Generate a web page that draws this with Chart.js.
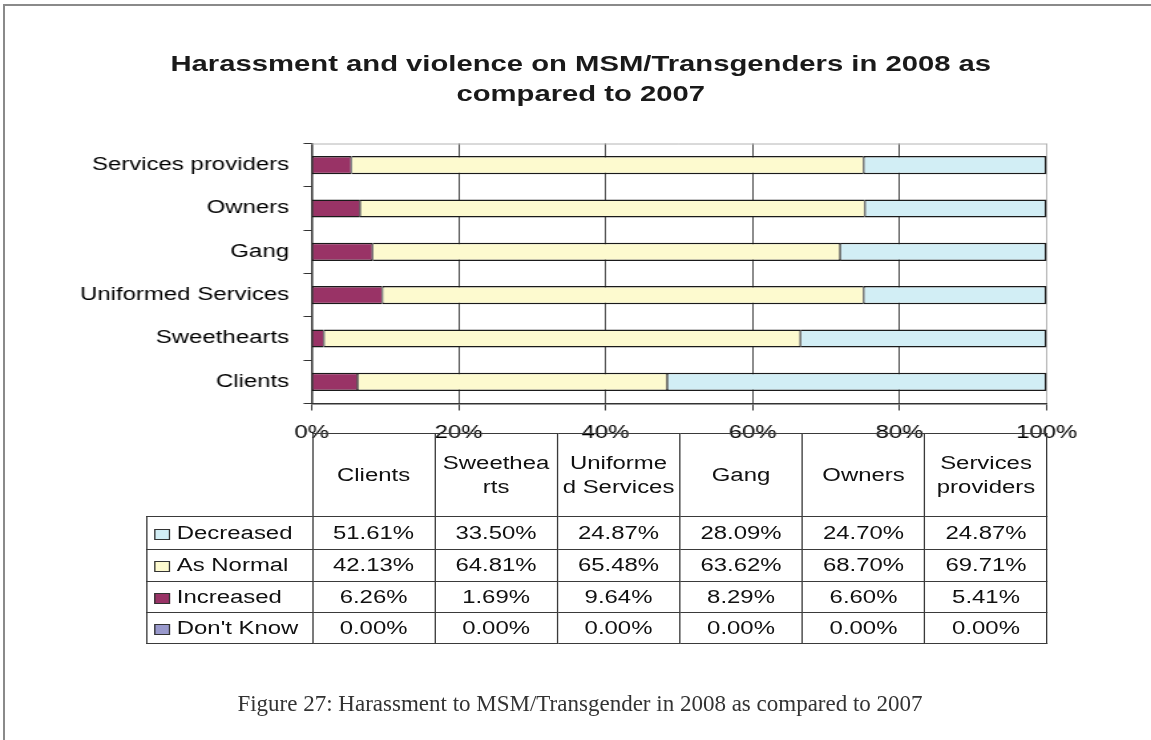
<!DOCTYPE html>
<html>
<head>
<meta charset="utf-8">
<title>Harassment and violence on MSM/Transgenders</title>
<script src="https://cdn.jsdelivr.net/npm/chart.js@4.4.0/dist/chart.umd.min.js"></script>
<style>
  html, body { margin: 0; padding: 0; background: #fff; }
  body { width: 1151px; height: 740px; overflow: hidden; position: relative;
         font-family: 'Liberation Sans', Arial, sans-serif; }
  #frame { position: absolute; left: 3px; top: 4px; width: 1200px; height: 800px;
           border-top: 2px solid #8a8a8a; border-left: 2px solid #8a8a8a; }
  /* the whole chart image is horizontally stretched in the original */
  #stretch { position: absolute; left: 0; top: 0; width: 866px; height: 740px;
             transform-origin: 0 0; transform: scaleX(1.3291); }
  #chart { position: absolute; left: 0; top: 0; }
  #chartTitle { position: absolute; left: 4px; top: 49px; width: 866px; text-align: center;
                font-weight: bold; font-size: 22px; line-height: 30px; color: #1a1a1a; }
  #dataTable { position: absolute; top: 433px; left: 110px; border-collapse: collapse;
               table-layout: fixed; width: 677.5px; font-size: 18px; color: #111; }
  #dataTable td { border: 1px solid #3a3a3a; padding: 0; text-align: center; white-space: nowrap; }
  #dataTable td.blank { border: none; }
  #dataTable tr.head td { line-height: 24px; }
  #dataTable td.rowLabel { text-align: left; padding-left: 5px; }
  .key { display: inline-block; width: 10px; height: 9px; border: 1px solid #333;
         margin-right: 5px; vertical-align: -1px; }
  #caption { position: absolute; left: 0; top: 691px; width: 1160px; text-align: center;
             font-family: 'Liberation Serif', 'Times New Roman', serif; font-size: 23px;
             line-height: 26px; color: #333; }
</style>
</head>
<body>
<div id="frame"></div>
<div id="stretch">
  <div id="chartTitle">Harassment and violence on MSM/Transgenders in 2008 as<br>compared to 2007</div>
  <canvas id="chart" width="866" height="740"></canvas>
  <table id="dataTable"></table>
</div>
<div id="caption">Figure 27: Harassment to MSM/Transgender in 2008 as compared to 2007</div>

<script>
const categories = ["Clients", "Sweethearts", "Uniformed Services", "Gang", "Owners", "Services providers"];
const tableHeaders = [["Clients"], ["Sweethea", "rts"], ["Uniforme", "d Services"], ["Gang"], ["Owners"], ["Services", "providers"]];
const decreased = [51.61, 33.50, 24.87, 28.09, 24.70, 24.87];
const asNormal = [42.13, 64.81, 65.48, 63.62, 68.70, 69.71];
const increased = [6.26, 1.69, 9.64, 8.29, 6.60, 5.41];
const dontKnow = [0.00, 0.00, 0.00, 0.00, 0.00, 0.00];
const xTickValues = [0, 20, 40, 60, 80, 100];

const colors = {
  decreased: "#D2EEF5",
  asNormal: "#FDFACF",
  increased: "#993366",
  dontKnow: "#9999CC",
};

const FONT = "'Liberation Sans', Arial, sans-serif";

// light grey top border of the plot area
const plotFrame = {
  id: "plotFrame",
  afterDraw(chart) {
    const { ctx, chartArea } = chart;
    ctx.save();
    ctx.strokeStyle = "#b4b4b4";
    ctx.lineWidth = 1;
    ctx.beginPath();
    ctx.moveTo(chartArea.left, chartArea.top + 0.5);
    ctx.lineTo(chartArea.right, chartArea.top + 0.5);
    ctx.stroke();
    ctx.restore();
  },
};

const thinSides = { top: 1.5, bottom: 1.5, left: 0.75, right: 0.75 };

new Chart(document.getElementById("chart"), {
  type: "bar",
  data: {
    labels: categories,
    datasets: [
      { label: "Increased", data: increased, backgroundColor: colors.increased, borderWidth: thinSides },
      { label: "As Normal", data: asNormal, backgroundColor: colors.asNormal, borderWidth: thinSides },
      { label: "Decreased", data: decreased, backgroundColor: colors.decreased,
        borderWidth: { top: 1.5, bottom: 1.5, left: 0.75, right: 1.5 } },
      { label: "Don't Know", data: dontKnow, backgroundColor: colors.dontKnow, borderWidth: thinSides },
    ],
  },
  options: {
    indexAxis: "y",
    responsive: false,
    animation: false,
    devicePixelRatio: 1,
    layout: { padding: { left: 0, right: 78.6, top: 143.5, bottom: 276.5 } },
    datasets: {
      bar: {
        borderColor: "#1a1a1a",
        borderSkipped: false,
        barPercentage: 0.42,
        categoryPercentage: 1,
      },
    },
    plugins: {
      legend: { display: false },
      tooltip: { enabled: false },
      title: { display: false },
    },
    scales: {
      x: {
        stacked: true,
        min: 0,
        max: 100,
        afterBuildTicks: (scale) => {
          scale.ticks = xTickValues.map((v) => ({ value: v }));
        },
        ticks: {
          callback: (v) => v + "%",
          padding: 12,
          color: "#000",
          maxRotation: 0,
          font: { family: FONT, size: 18 },
        },
        grid: {
          color: (ctx) => {
            const v = ctx.tick ? ctx.tick.value : -1;
            if (v === 0) return "rgba(0,0,0,0)";
            if (v === 100) return "#b0b0b0";
            return "#4a4a4a";
          },
          tickColor: "#333",
          tickLength: 7,
          lineWidth: 1,
        },
        border: { color: "#333", width: 1.5 },
        afterFit: (scale) => {
          scale.height = 60;
        },
      },
      y: {
        stacked: true,
        reverse: true,
        ticks: {
          padding: 11,
          color: "#000",
          font: { family: FONT, size: 18 },
        },
        grid: {
          drawOnChartArea: false,
          offset: true,
          color: "#333",
          tickColor: "#333",
          tickLength: 6,
        },
        border: { color: "#333", width: 1.5 },
        afterFit: (scale) => {
          scale.width = 234.4;
        },
      },
    },
  },
  plugins: [plotFrame],
});

// Data table under the chart (acts as the legend too)
const tableRows = [
  { label: "Decreased", color: colors.decreased, values: decreased },
  { label: "As Normal", color: colors.asNormal, values: asNormal },
  { label: "Increased", color: colors.increased, values: increased },
  { label: "Don't Know", color: colors.dontKnow, values: dontKnow },
];
const rowHeights = [33, 32, 31, 31];

const table = document.getElementById("dataTable");
let html = '<colgroup><col style="width:124.5px">';
for (let i = 0; i < categories.length; i++) html += '<col style="width:92.17px">';
html += "</colgroup>";
html += '<tr class="head" style="height:83px"><td class="blank"></td>';
tableHeaders.forEach((lines) => {
  html += "<td>" + lines.join("<br>") + "</td>";
});
html += "</tr>";
tableRows.forEach((row, r) => {
  html += '<tr style="height:' + rowHeights[r] + 'px">';
  html += '<td class="rowLabel"><span class="key" style="background:' + row.color + '"></span>' + row.label + "</td>";
  row.values.forEach((v) => {
    html += "<td>" + v.toFixed(2) + "%</td>";
  });
  html += "</tr>";
});
table.innerHTML = html;
</script>
</body>
</html>
